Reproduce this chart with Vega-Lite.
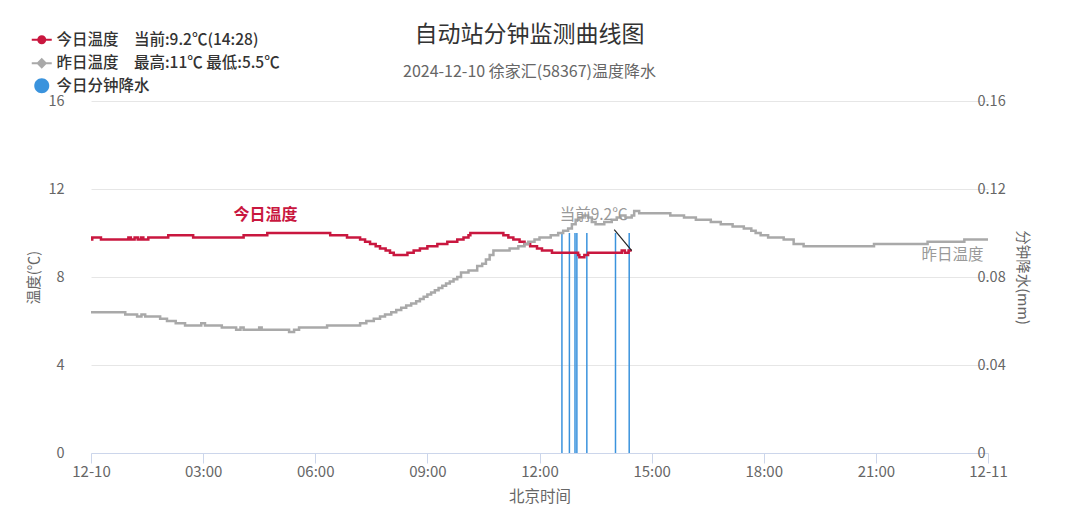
{
  "$schema": "https://vega.github.io/schema/vega-lite/v6.json",
  "width": 897,
  "height": 352,
  "autosize": {"type": "none"},
  "padding": {"left": 91, "top": 101, "right": 92, "bottom": 75},
  "background": "#ffffff",
  "config": {
    "font": "Noto Sans CJK SC",
    "view": {"stroke": null},
    "axis": {"labelFont": "Noto Sans CJK SC", "titleFont": "Noto Sans CJK SC"},
    "legend": {"labelFont": "Noto Sans CJK SC"},
    "title": {"font": "Noto Sans CJK SC", "subtitleFont": "Noto Sans CJK SC"}
  },
  "title": {
    "text": "自动站分钟监测曲线图",
    "subtitle": "2024-12-10 徐家汇(58367)温度降水",
    "anchor": "middle",
    "frame": "group",
    "dx": -10,
    "offset": -48,
    "fontSize": 23,
    "fontWeight": "normal",
    "color": "#333333",
    "subtitleFontSize": 16,
    "subtitleColor": "#666666",
    "subtitlePadding": 17
  },
  "datasets": {
    "temp": [
      {"series": "今日温度", "t": "2024-12-10T00:00:00Z", "v": 9.7},
      {"series": "今日温度", "t": "2024-12-10T00:02:00Z", "v": 9.8},
      {"series": "今日温度", "t": "2024-12-10T00:16:00Z", "v": 9.7},
      {"series": "今日温度", "t": "2024-12-10T01:00:00Z", "v": 9.8},
      {"series": "今日温度", "t": "2024-12-10T01:04:00Z", "v": 9.7},
      {"series": "今日温度", "t": "2024-12-10T01:10:00Z", "v": 9.8},
      {"series": "今日温度", "t": "2024-12-10T01:15:00Z", "v": 9.7},
      {"series": "今日温度", "t": "2024-12-10T01:20:00Z", "v": 9.8},
      {"series": "今日温度", "t": "2024-12-10T01:24:00Z", "v": 9.7},
      {"series": "今日温度", "t": "2024-12-10T01:32:00Z", "v": 9.8},
      {"series": "今日温度", "t": "2024-12-10T02:04:00Z", "v": 9.9},
      {"series": "今日温度", "t": "2024-12-10T02:44:00Z", "v": 9.8},
      {"series": "今日温度", "t": "2024-12-10T04:05:00Z", "v": 9.9},
      {"series": "今日温度", "t": "2024-12-10T04:43:00Z", "v": 10.0},
      {"series": "今日温度", "t": "2024-12-10T06:24:00Z", "v": 9.9},
      {"series": "今日温度", "t": "2024-12-10T06:51:00Z", "v": 9.8},
      {"series": "今日温度", "t": "2024-12-10T07:12:00Z", "v": 9.7},
      {"series": "今日温度", "t": "2024-12-10T07:20:00Z", "v": 9.6},
      {"series": "今日温度", "t": "2024-12-10T07:28:00Z", "v": 9.5},
      {"series": "今日温度", "t": "2024-12-10T07:37:00Z", "v": 9.4},
      {"series": "今日温度", "t": "2024-12-10T07:44:00Z", "v": 9.3},
      {"series": "今日温度", "t": "2024-12-10T07:53:00Z", "v": 9.2},
      {"series": "今日温度", "t": "2024-12-10T08:00:00Z", "v": 9.1},
      {"series": "今日温度", "t": "2024-12-10T08:06:00Z", "v": 9.0},
      {"series": "今日温度", "t": "2024-12-10T08:28:00Z", "v": 9.1},
      {"series": "今日温度", "t": "2024-12-10T08:38:00Z", "v": 9.2},
      {"series": "今日温度", "t": "2024-12-10T08:48:00Z", "v": 9.3},
      {"series": "今日温度", "t": "2024-12-10T09:00:00Z", "v": 9.4},
      {"series": "今日温度", "t": "2024-12-10T09:16:00Z", "v": 9.5},
      {"series": "今日温度", "t": "2024-12-10T09:32:00Z", "v": 9.6},
      {"series": "今日温度", "t": "2024-12-10T09:48:00Z", "v": 9.7},
      {"series": "今日温度", "t": "2024-12-10T09:58:00Z", "v": 9.8},
      {"series": "今日温度", "t": "2024-12-10T10:06:00Z", "v": 9.9},
      {"series": "今日温度", "t": "2024-12-10T10:09:00Z", "v": 10.0},
      {"series": "今日温度", "t": "2024-12-10T11:02:00Z", "v": 9.9},
      {"series": "今日温度", "t": "2024-12-10T11:10:00Z", "v": 9.8},
      {"series": "今日温度", "t": "2024-12-10T11:18:00Z", "v": 9.7},
      {"series": "今日温度", "t": "2024-12-10T11:28:00Z", "v": 9.6},
      {"series": "今日温度", "t": "2024-12-10T11:36:00Z", "v": 9.5},
      {"series": "今日温度", "t": "2024-12-10T11:45:00Z", "v": 9.4},
      {"series": "今日温度", "t": "2024-12-10T11:56:00Z", "v": 9.3},
      {"series": "今日温度", "t": "2024-12-10T12:04:00Z", "v": 9.2},
      {"series": "今日温度", "t": "2024-12-10T12:20:00Z", "v": 9.1},
      {"series": "今日温度", "t": "2024-12-10T13:02:00Z", "v": 9.0},
      {"series": "今日温度", "t": "2024-12-10T13:04:00Z", "v": 8.9},
      {"series": "今日温度", "t": "2024-12-10T13:12:00Z", "v": 9.0},
      {"series": "今日温度", "t": "2024-12-10T13:18:00Z", "v": 9.1},
      {"series": "今日温度", "t": "2024-12-10T14:12:00Z", "v": 9.2},
      {"series": "今日温度", "t": "2024-12-10T14:17:00Z", "v": 9.1},
      {"series": "今日温度", "t": "2024-12-10T14:23:00Z", "v": 9.2},
      {"series": "今日温度", "t": "2024-12-10T14:28:00Z", "v": 9.2},
      {"series": "昨日温度", "t": "2024-12-10T00:00:00Z", "v": 6.4},
      {"series": "昨日温度", "t": "2024-12-10T00:55:00Z", "v": 6.3},
      {"series": "昨日温度", "t": "2024-12-10T01:14:00Z", "v": 6.2},
      {"series": "昨日温度", "t": "2024-12-10T01:21:00Z", "v": 6.3},
      {"series": "昨日温度", "t": "2024-12-10T01:27:00Z", "v": 6.2},
      {"series": "昨日温度", "t": "2024-12-10T01:51:00Z", "v": 6.1},
      {"series": "昨日温度", "t": "2024-12-10T02:02:00Z", "v": 6.0},
      {"series": "昨日温度", "t": "2024-12-10T02:16:00Z", "v": 5.9},
      {"series": "昨日温度", "t": "2024-12-10T02:31:00Z", "v": 5.8},
      {"series": "昨日温度", "t": "2024-12-10T02:57:00Z", "v": 5.9},
      {"series": "昨日温度", "t": "2024-12-10T03:03:00Z", "v": 5.8},
      {"series": "昨日温度", "t": "2024-12-10T03:30:00Z", "v": 5.7},
      {"series": "昨日温度", "t": "2024-12-10T03:53:00Z", "v": 5.6},
      {"series": "昨日温度", "t": "2024-12-10T04:00:00Z", "v": 5.7},
      {"series": "昨日温度", "t": "2024-12-10T04:05:00Z", "v": 5.6},
      {"series": "昨日温度", "t": "2024-12-10T04:30:00Z", "v": 5.7},
      {"series": "昨日温度", "t": "2024-12-10T04:34:00Z", "v": 5.6},
      {"series": "昨日温度", "t": "2024-12-10T05:18:00Z", "v": 5.5},
      {"series": "昨日温度", "t": "2024-12-10T05:26:00Z", "v": 5.6},
      {"series": "昨日温度", "t": "2024-12-10T05:34:00Z", "v": 5.7},
      {"series": "昨日温度", "t": "2024-12-10T06:19:00Z", "v": 5.8},
      {"series": "昨日温度", "t": "2024-12-10T07:12:00Z", "v": 5.9},
      {"series": "昨日温度", "t": "2024-12-10T07:22:00Z", "v": 6.0},
      {"series": "昨日温度", "t": "2024-12-10T07:34:00Z", "v": 6.1},
      {"series": "昨日温度", "t": "2024-12-10T07:44:00Z", "v": 6.2},
      {"series": "昨日温度", "t": "2024-12-10T07:52:00Z", "v": 6.3},
      {"series": "昨日温度", "t": "2024-12-10T08:02:00Z", "v": 6.4},
      {"series": "昨日温度", "t": "2024-12-10T08:10:00Z", "v": 6.5},
      {"series": "昨日温度", "t": "2024-12-10T08:18:00Z", "v": 6.6},
      {"series": "昨日温度", "t": "2024-12-10T08:26:00Z", "v": 6.7},
      {"series": "昨日温度", "t": "2024-12-10T08:34:00Z", "v": 6.8},
      {"series": "昨日温度", "t": "2024-12-10T08:42:00Z", "v": 6.9},
      {"series": "昨日温度", "t": "2024-12-10T08:48:00Z", "v": 7.0},
      {"series": "昨日温度", "t": "2024-12-10T08:54:00Z", "v": 7.1},
      {"series": "昨日温度", "t": "2024-12-10T09:00:00Z", "v": 7.2},
      {"series": "昨日温度", "t": "2024-12-10T09:06:00Z", "v": 7.3},
      {"series": "昨日温度", "t": "2024-12-10T09:12:00Z", "v": 7.4},
      {"series": "昨日温度", "t": "2024-12-10T09:18:00Z", "v": 7.5},
      {"series": "昨日温度", "t": "2024-12-10T09:24:00Z", "v": 7.6},
      {"series": "昨日温度", "t": "2024-12-10T09:30:00Z", "v": 7.7},
      {"series": "昨日温度", "t": "2024-12-10T09:36:00Z", "v": 7.8},
      {"series": "昨日温度", "t": "2024-12-10T09:42:00Z", "v": 7.9},
      {"series": "昨日温度", "t": "2024-12-10T09:48:00Z", "v": 8.0},
      {"series": "昨日温度", "t": "2024-12-10T09:54:00Z", "v": 8.2},
      {"series": "昨日温度", "t": "2024-12-10T10:06:00Z", "v": 8.3},
      {"series": "昨日温度", "t": "2024-12-10T10:20:00Z", "v": 8.5},
      {"series": "昨日温度", "t": "2024-12-10T10:28:00Z", "v": 8.6},
      {"series": "昨日温度", "t": "2024-12-10T10:34:00Z", "v": 8.8},
      {"series": "昨日温度", "t": "2024-12-10T10:40:00Z", "v": 9.0},
      {"series": "昨日温度", "t": "2024-12-10T10:46:00Z", "v": 9.2},
      {"series": "昨日温度", "t": "2024-12-10T11:12:00Z", "v": 9.3},
      {"series": "昨日温度", "t": "2024-12-10T11:26:00Z", "v": 9.4},
      {"series": "昨日温度", "t": "2024-12-10T11:36:00Z", "v": 9.5},
      {"series": "昨日温度", "t": "2024-12-10T11:42:00Z", "v": 9.6},
      {"series": "昨日温度", "t": "2024-12-10T11:52:00Z", "v": 9.7},
      {"series": "昨日温度", "t": "2024-12-10T12:00:00Z", "v": 9.8},
      {"series": "昨日温度", "t": "2024-12-10T12:18:00Z", "v": 9.9},
      {"series": "昨日温度", "t": "2024-12-10T12:30:00Z", "v": 10.0},
      {"series": "昨日温度", "t": "2024-12-10T12:38:00Z", "v": 10.1},
      {"series": "昨日温度", "t": "2024-12-10T12:46:00Z", "v": 10.2},
      {"series": "昨日温度", "t": "2024-12-10T12:52:00Z", "v": 10.4},
      {"series": "昨日温度", "t": "2024-12-10T12:58:00Z", "v": 10.6},
      {"series": "昨日温度", "t": "2024-12-10T13:04:00Z", "v": 10.7},
      {"series": "昨日温度", "t": "2024-12-10T13:10:00Z", "v": 10.8},
      {"series": "昨日温度", "t": "2024-12-10T13:18:00Z", "v": 10.7},
      {"series": "昨日温度", "t": "2024-12-10T13:24:00Z", "v": 10.5},
      {"series": "昨日温度", "t": "2024-12-10T13:30:00Z", "v": 10.4},
      {"series": "昨日温度", "t": "2024-12-10T13:44:00Z", "v": 10.5},
      {"series": "昨日温度", "t": "2024-12-10T13:56:00Z", "v": 10.6},
      {"series": "昨日温度", "t": "2024-12-10T14:04:00Z", "v": 10.7},
      {"series": "昨日温度", "t": "2024-12-10T14:10:00Z", "v": 10.8},
      {"series": "昨日温度", "t": "2024-12-10T14:18:00Z", "v": 10.7},
      {"series": "昨日温度", "t": "2024-12-10T14:28:00Z", "v": 10.8},
      {"series": "昨日温度", "t": "2024-12-10T14:32:00Z", "v": 11.0},
      {"series": "昨日温度", "t": "2024-12-10T14:40:00Z", "v": 10.9},
      {"series": "昨日温度", "t": "2024-12-10T15:30:00Z", "v": 10.8},
      {"series": "昨日温度", "t": "2024-12-10T15:52:00Z", "v": 10.7},
      {"series": "昨日温度", "t": "2024-12-10T16:11:00Z", "v": 10.6},
      {"series": "昨日温度", "t": "2024-12-10T16:35:00Z", "v": 10.5},
      {"series": "昨日温度", "t": "2024-12-10T16:51:00Z", "v": 10.4},
      {"series": "昨日温度", "t": "2024-12-10T17:10:00Z", "v": 10.3},
      {"series": "昨日温度", "t": "2024-12-10T17:28:00Z", "v": 10.2},
      {"series": "昨日温度", "t": "2024-12-10T17:40:00Z", "v": 10.1},
      {"series": "昨日温度", "t": "2024-12-10T17:47:00Z", "v": 10.0},
      {"series": "昨日温度", "t": "2024-12-10T17:55:00Z", "v": 9.9},
      {"series": "昨日温度", "t": "2024-12-10T18:07:00Z", "v": 9.8},
      {"series": "昨日温度", "t": "2024-12-10T18:32:00Z", "v": 9.7},
      {"series": "昨日温度", "t": "2024-12-10T18:48:00Z", "v": 9.5},
      {"series": "昨日温度", "t": "2024-12-10T19:04:00Z", "v": 9.4},
      {"series": "昨日温度", "t": "2024-12-10T20:57:00Z", "v": 9.5},
      {"series": "昨日温度", "t": "2024-12-10T22:23:00Z", "v": 9.6},
      {"series": "昨日温度", "t": "2024-12-10T23:22:00Z", "v": 9.7},
      {"series": "昨日温度", "t": "2024-12-11T00:00:00Z", "v": 9.7}
    ],
    "rain": [
      {"series": "今日分钟降水", "t": "2024-12-10T12:36:00Z", "p": 0.1},
      {"series": "今日分钟降水", "t": "2024-12-10T12:48:00Z", "p": 0.1},
      {"series": "今日分钟降水", "t": "2024-12-10T12:57:00Z", "p": 0.1},
      {"series": "今日分钟降水", "t": "2024-12-10T13:00:00Z", "p": 0.1},
      {"series": "今日分钟降水", "t": "2024-12-10T13:16:00Z", "p": 0.1},
      {"series": "今日分钟降水", "t": "2024-12-10T14:02:00Z", "p": 0.1},
      {"series": "今日分钟降水", "t": "2024-12-10T14:24:00Z", "p": 0.1}
    ],
    "notes": [
      {"kind": "today", "t": "2024-12-10T04:40:00Z", "v": 10.8, "label": "今日温度"},
      {"kind": "yesterday", "t": "2024-12-10T23:03:00Z", "v": 9.0, "label": "昨日温度"},
      {"kind": "current", "t": "2024-12-10T13:27:00Z", "v": 10.8, "label": "当前9.2℃"}
    ],
    "callout": [
      {"t": "2024-12-10T14:00:00Z", "v": 10.15, "t2": "2024-12-10T14:28:00Z", "v2": 9.2}
    ]
  },
  "encoding": {
    "x": {
      "field": "t",
      "type": "temporal",
      "scale": {
        "type": "utc",
        "domain": [
          {"year": 2024, "month": 12, "date": 10, "hours": 0, "utc": true},
          {"year": 2024, "month": 12, "date": 11, "hours": 0, "utc": true}
        ]
      },
      "axis": {
        "title": "北京时间",
        "values": [
          {"year": 2024, "month": 12, "date": 10, "hours": 0, "utc": true},
          {"year": 2024, "month": 12, "date": 10, "hours": 3, "utc": true},
          {"year": 2024, "month": 12, "date": 10, "hours": 6, "utc": true},
          {"year": 2024, "month": 12, "date": 10, "hours": 9, "utc": true},
          {"year": 2024, "month": 12, "date": 10, "hours": 12, "utc": true},
          {"year": 2024, "month": 12, "date": 10, "hours": 15, "utc": true},
          {"year": 2024, "month": 12, "date": 10, "hours": 18, "utc": true},
          {"year": 2024, "month": 12, "date": 10, "hours": 21, "utc": true},
          {"year": 2024, "month": 12, "date": 11, "hours": 0, "utc": true}
        ],
        "labelExpr": "utchours(datum.value) === 0 ? utcFormat(datum.value, '%m-%d') : utcFormat(datum.value, '%H:%M')",
        "grid": false,
        "domainColor": "#ccd6eb",
        "tickColor": "#ccd6eb",
        "tickSize": 10,
        "labelPadding": 1,
        "labelFlush": false,
        "labelFontSize": 15,
        "labelColor": "#666666",
        "titleFontSize": 15.5,
        "titleColor": "#666666",
        "titleFontWeight": "normal",
        "titlePadding": 10
      }
    }
  },
  "layer": [
    {
      "data": {"name": "rain"},
      "mark": {"type": "rule", "strokeWidth": 1.5},
      "encoding": {
        "y": {
          "field": "p",
          "type": "quantitative",
          "scale": {"domain": [0, 0.16]},
          "axis": {
            "orient": "right",
            "title": "分钟降水(mm)",
            "values": [0, 0.04, 0.08, 0.12, 0.16],
            "format": "~g",
            "grid": false,
            "domain": false,
            "ticks": false,
            "labelPadding": -11,
            "labelFontSize": 14.5,
            "labelColor": "#666666",
            "titleFontSize": 14.5,
            "titleColor": "#666666",
            "titleFontWeight": "normal",
            "titlePadding": 9
          }
        },
        "y2": {"datum": 0},
        "color": {
          "field": "series",
          "type": "nominal",
          "scale": {
            "domain": ["今日温度", "昨日温度", "今日分钟降水"],
            "range": ["#c9173f", "#a9a9a9", "#3a93dd"]
          },
          "legend": {
            "title": null,
            "orient": "none",
            "legendX": -57,
            "legendY": -69,
            "direction": "vertical",
            "padding": 0,
            "labelFontSize": 15.5,
            "labelFontWeight": 500,
            "labelColor": "#333333",
            "labelLimit": 400,
            "symbolSize": 100,
            "symbolStrokeWidth": 2,
            "rowPadding": 5.5,
            "labelOffset": 7,
            "labelExpr": "datum.value === '今日温度' ? '今日温度　当前:9.2℃(14:28)' : datum.value === '昨日温度' ? '昨日温度　最高:11℃ 最低:5.5℃' : datum.label",
            "encode": {
              "symbols": {
                "update": {
                  "shape": {"signal": "datum.value === '今日分钟降水' ? 'M1.5,0A1.5,1.5 0 1 1 -1.5,0A1.5,1.5 0 1 1 1.5,0Z' : datum.value === '今日温度' ? 'M-2,0H2M0.7,0A0.7,0.7 0 1 1 -0.7,0A0.7,0.7 0 1 1 0.7,0Z' : 'M-2,0H2M0,-0.8L0.8,0L0,0.8L-0.8,0Z'"},
                  "fill": {"scale": "color", "field": "value"},
                  "stroke": {"scale": "color", "field": "value"},
                  "strokeWidth": {"signal": "datum.value === '今日分钟降水' ? 0 : 2"},
                  "opacity": {"value": 1}
                }
              }
            }
          }
        }
      }
    },
    {
      "encoding": {
        "y": {
          "field": "v",
          "type": "quantitative",
          "scale": {"domain": [0, 16]},
          "axis": {
            "orient": "left",
            "title": "温度(℃)",
            "values": [0, 4, 8, 12, 16],
            "grid": true,
            "gridColor": "#e6e6e6",
            "domain": false,
            "ticks": false,
            "labelPadding": 27,
            "labelFontSize": 14.5,
            "labelColor": "#666666",
            "titleFontSize": 14.5,
            "titleColor": "#666666",
            "titleFontWeight": "normal",
            "titlePadding": 6
          }
        }
      },
      "layer": [
        {
          "data": {"name": "temp"},
          "mark": {"type": "line", "interpolate": "step-after", "strokeWidth": 2.5},
          "encoding": {
            "color": {"field": "series", "type": "nominal"}
          }
        },
        {
          "data": {"name": "notes"},
          "transform": [{"filter": "datum.kind === 'today'"}],
          "mark": {"type": "text", "color": "#c9173f", "fontSize": 16, "fontWeight": "bold", "align": "center", "baseline": "middle"},
          "encoding": {
            "text": {"field": "label"}
          }
        },
        {
          "data": {"name": "notes"},
          "transform": [{"filter": "datum.kind !== 'today'"}],
          "mark": {"type": "text", "color": "#999999", "fontSize": 15.5, "align": "center", "baseline": "middle"},
          "encoding": {
            "text": {"field": "label"}
          }
        },
        {
          "data": {"name": "callout"},
          "mark": {"type": "rule", "color": "#222222", "strokeWidth": 1.2},
          "encoding": {
            "x2": {"field": "t2"},
            "y2": {"field": "v2"}
          }
        }
      ]
    }
  ],
  "resolve": {"scale": {"y": "independent"}}
}
